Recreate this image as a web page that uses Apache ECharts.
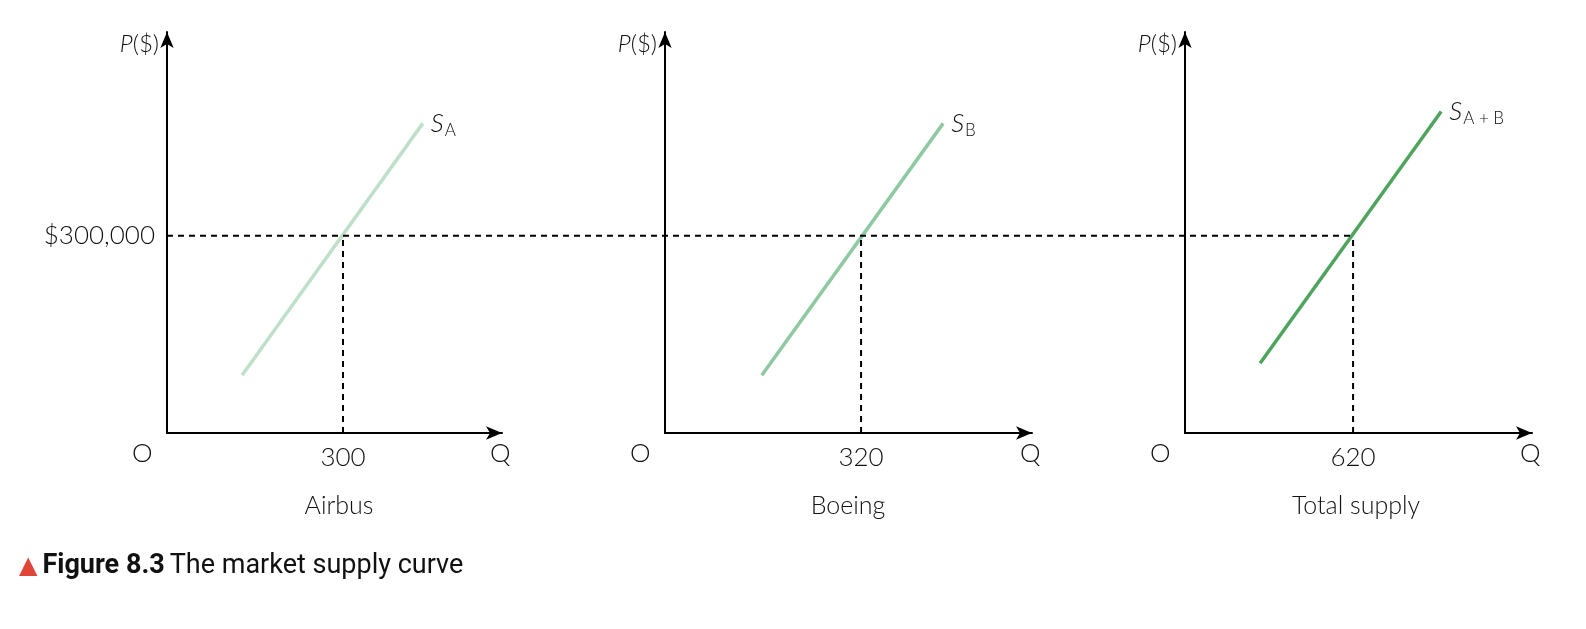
<!DOCTYPE html>
<html><head><meta charset="utf-8">
<script src="https://cdn.jsdelivr.net/npm/echarts@6/dist/echarts.min.js"></script>
<style>html,body{margin:0;background:#fff}#c{width:1586px;height:629px}</style>
</head><body><div id="c"></div>
<script>
// data
const panelNames = ["Airbus", "Boeing", "Total supply"];
const curveNames = ["A", "B", "A + B"];
const curveColors = ["#bfe0c8", "#8ec9a1", "#4ea45d"];
const eqQuantity = [300, 320, 620];
const eqPrice = 300000;
const curveStart = [[128, 88000], [158, 88000], [277, 106000]];
const curveEnd = [[436, 471000], [454, 471000], [945, 489000]];
const xMax = [571, 599, 1280];
const yMax = 610000;

const gridLeft = [167, 665, 1185], gridWidth = [335, 367, 347];
const font = "Lato";
const grids = [], xAxes = [], yAxes = [], series = [], graphics = [];

for (let i = 0; i < 3; i++) {
  grids.push({ left: gridLeft[i], width: gridWidth[i], top: 32, height: 401 });
  xAxes.push({
    gridIndex: i, type: "value", min: 0, max: xMax[i],
    axisLine: { lineStyle: { color: "#000", width: 2 }, symbol: ["none", "arrow"], symbolSize: [10, 16] },
    axisTick: { show: false }, splitLine: { show: false },
    axisLabel: { customValues: [eqQuantity[i]], fontFamily: font, fontWeight: 300, fontSize: 26, color: "#111", margin: 12 }
  });
  yAxes.push({
    gridIndex: i, type: "value", min: 0, max: yMax,
    name: "{i|P}($)", nameLocation: "end", nameGap: 0,
    nameTextStyle: { align: "right", verticalAlign: "top", padding: [0, 8, 0, 0], fontFamily: font, fontWeight: 300, fontSize: 24, color: "#111",
      rich: { i: { fontStyle: "italic", fontFamily: font, fontWeight: 300, fontSize: 24, color: "#111" } } },
    axisLine: { lineStyle: { color: "#000", width: 2 }, symbol: ["none", "arrow"], symbolSize: [10, 16] },
    axisTick: { show: false }, splitLine: { show: false },
    axisLabel: i === 0
      ? { customValues: [eqPrice], formatter: v => "$" + v.toLocaleString("en-US"), fontFamily: font, fontWeight: 300, fontSize: 26, color: "#111", margin: 12 }
      : { show: false }
  });
  series.push({
    type: "line", xAxisIndex: i, yAxisIndex: i, symbol: "none", z: 3,
    lineStyle: { color: curveColors[i], width: 3.5 },
    data: [curveStart[i], curveEnd[i]],
    endLabel: { show: true, distance: 8, formatter: "{s|S}{b|" + curveNames[i] + "}",
      rich: { s: { fontStyle: "italic", fontFamily: font, fontWeight: 300, fontSize: 26, color: "#111" },
              b: { fontFamily: font, fontWeight: 300, fontSize: 17, color: "#111", padding: [14, 0, 0, 1] } } }
  });
  series.push({
    type: "line", xAxisIndex: i, yAxisIndex: i, symbol: "none", silent: true,
    lineStyle: { color: "#000", width: 2, type: [6, 5] },
    data: [[eqQuantity[i], 0], [eqQuantity[i], eqPrice]]
  });
  graphics.push({ type: "text", left: gridLeft[i] - 35, top: 441, style: { text: "O", font: "300 26px " + font, fill: "#111" } });
  graphics.push({ type: "text", left: gridLeft[i] + gridWidth[i] - 12, top: 441, style: { text: "Q", font: "300 26px " + font, fill: "#111" } });
}
// overlay grid for the horizontal dashed price line: from left y-axis to total-supply equilibrium
grids.push({ left: gridLeft[0], width: 1351 - gridLeft[0], top: 32, height: 401 });
xAxes.push({ gridIndex: 3, type: "value", min: 0, max: 1, show: false });
yAxes.push({ gridIndex: 3, type: "value", min: 0, max: yMax, show: false });
series.push({
  type: "line", xAxisIndex: 3, yAxisIndex: 3, symbol: "none", silent: true,
  lineStyle: { color: "#000", width: 2, type: [6, 5] },
  data: [[0, eqPrice], [1, eqPrice]]
});

const titles = panelNames.map((n, i) => ({
  text: n, left: [334, 843, 1351][i], top: 488, textAlign: "center",
  textStyle: { fontFamily: font, fontWeight: 300, fontSize: 25, color: "#111" }
}));
titles.push({
  text: "{t|▲} {b|Figure 8.3} {r|The market supply curve}", left: 14, top: 548,
  textStyle: { fontWeight: "normal", rich: {
    t: { color: "#e0453a", fontSize: 24, fontFamily: "DejaVu Sans" },
    b: { fontFamily: "Roboto", fontWeight: "bold", fontSize: 27, color: "#111" },
    r: { fontFamily: "Roboto", fontWeight: "normal", fontSize: 27, color: "#111" } } }
});

const chart = echarts.init(document.getElementById("c"));
chart.setOption({
  backgroundColor: "#fff", animation: false,
  title: titles, grid: grids, xAxis: xAxes, yAxis: yAxes, series: series, graphic: graphics
});
</script></body></html>
